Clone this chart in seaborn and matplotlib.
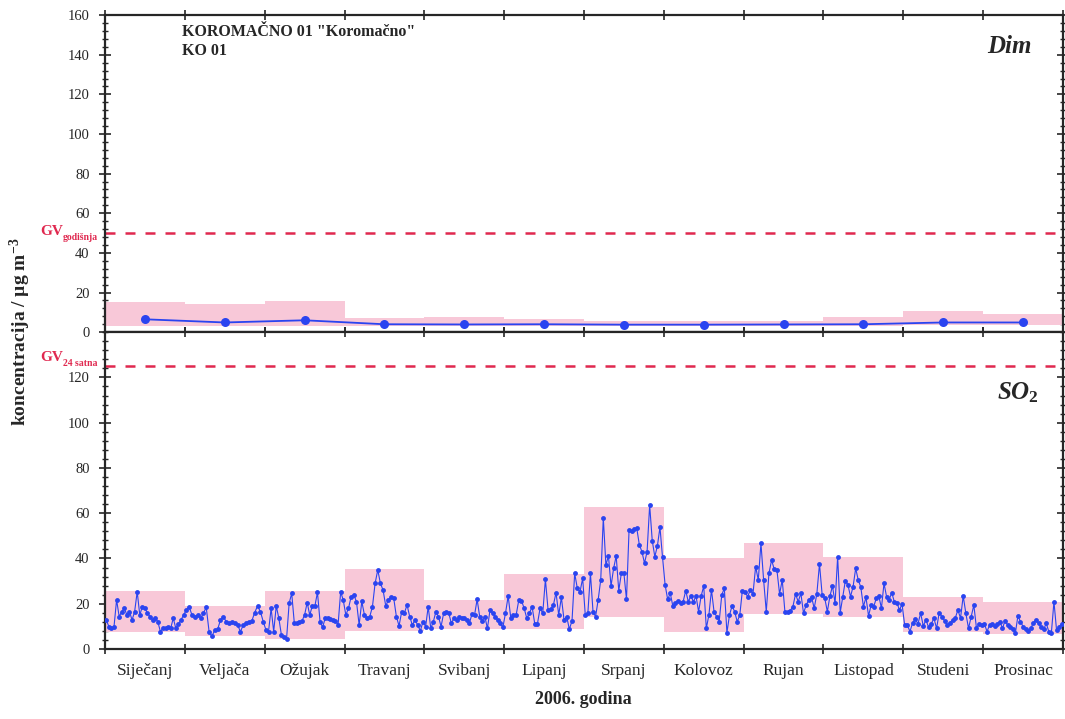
import numpy as np
import pandas as pd
import seaborn as sns
import matplotlib.pyplot as plt
from matplotlib.ticker import MultipleLocator, FixedLocator
from matplotlib.transforms import blended_transform_factory

# mjeseci
mjeseci = ["Siječanj", "Veljača", "Ožujak", "Travanj", "Svibanj", "Lipanj",
           "Srpanj", "Kolovoz", "Rujan", "Listopad", "Studeni", "Prosinac"]

# Dim - mjesečni srednjaci i raspon (min - max)
dim_sred = [6.5, 4.9, 6.0, 4.0, 3.9, 4.0, 3.8, 3.8, 3.9, 4.0, 4.9, 4.9]
dim_min = [3.2, 3.0, 3.2, 3.0, 3.0, 3.0, 3.0, 3.0, 3.0, 3.2, 3.5, 3.5]
dim_max = [15.0, 14.3, 15.5, 7.0, 7.5, 6.5, 5.8, 5.6, 5.8, 7.8, 10.8, 9.2]

# SO2 - dnevne vrijednosti po mjesecima
so2_sij = [12.8, 9.9, 9.1, 9.9, 21.7, 14.3, 16.5, 18.0, 15.0, 16.5, 12.8, 16.5, 25.3, 15.0, 18.7, 18.0,
           15.8, 14.3, 12.8, 13.6, 12.1, 7.7, 9.1, 9.1, 9.6, 9.1, 13.6, 9.1, 11.1, 12.8, 15.0]
so2_velj = [17.2, 18.7, 15.0, 14.3, 15.0, 13.6, 15.8, 18.4, 7.7, 5.6, 8.4, 8.7, 12.8, 14.3, 12.1, 11.4,
            12.1, 11.6, 10.6, 7.7, 10.6, 11.6, 12.1, 12.4, 16.1, 19.0, 16.5, 12.1]
so2_ozu = [8.4, 7.7, 18.0, 7.7, 19.0, 13.6, 6.2, 5.2, 4.5, 20.2, 24.6, 11.6, 11.6, 12.1, 12.4, 15.0,
           20.5, 15.0, 19.0, 19.0, 25.0, 12.1, 9.6, 13.6, 13.6, 13.3, 12.8, 12.5, 10.6, 25.2, 21.7]
so2_tra = [15.0, 18.0, 23.1, 23.9, 20.9, 10.6, 21.0, 15.0, 13.6, 14.3, 18.7, 29.0, 34.9, 29.0, 26.0,
           19.0, 21.7, 23.1, 22.4, 14.3, 10.2, 16.5, 15.8, 19.5, 14.3, 10.6, 12.8, 10.6, 8.0, 12.1]
so2_svi = [9.9, 18.7, 9.1, 12.1, 16.5, 14.3, 9.9, 15.8, 16.5, 15.8, 11.3, 13.6, 12.8, 14.3, 13.6, 13.9,
           12.8, 11.3, 15.5, 15.0, 21.9, 14.3, 12.5, 14.3, 9.1, 17.2, 15.8, 14.3, 12.8, 11.3, 9.6]
so2_lip = [15.8, 23.4, 13.6, 15.0, 15.0, 21.6, 21.4, 18.0, 13.6, 15.8, 18.7, 11.1, 11.1, 18.0, 15.8,
           30.8, 17.2, 17.5, 19.4, 24.9, 15.0, 22.8, 12.8, 14.3, 8.7, 12.5, 33.4, 26.8, 25.3, 31.2]
so2_srp = [15.0, 15.8, 33.4, 16.5, 14.3, 21.7, 30.5, 58.0, 37.1, 41.1, 27.8, 35.6, 41.1, 25.8, 33.4, 33.4,
           21.9, 52.6, 52.3, 52.9, 53.3, 46.0, 43.0, 37.9, 43.0, 63.6, 47.9, 40.8, 45.5, 53.8, 40.5]
so2_kol = [28.3, 21.9, 24.6, 19.0, 20.2, 21.4, 20.5, 20.9, 25.8, 20.9, 23.4, 20.9, 23.4, 16.5, 23.4, 27.8,
           9.1, 15.0, 26.1, 16.5, 14.3, 12.1, 23.9, 26.8, 7.2, 15.0, 19.0, 16.5, 12.1, 15.0, 25.8]
so2_ruj = [25.3, 23.1, 26.1, 24.3, 36.4, 30.5, 46.7, 30.5, 16.5, 33.4, 39.3, 35.2, 34.9, 24.3, 30.5,
           16.5, 16.5, 16.9, 18.7, 24.3, 20.9, 24.6, 15.8, 19.4, 21.7, 23.1, 18.0, 24.3, 37.6, 23.9]
so2_lis = [22.4, 16.5, 23.4, 27.8, 20.2, 40.8, 16.1, 23.1, 30.2, 28.3, 23.1, 27.6, 35.6, 30.5, 27.3, 18.7,
           22.8, 14.6, 19.4, 18.7, 22.4, 23.4, 18.0, 29.0, 23.1, 21.7, 24.9, 20.9, 20.5, 17.2, 19.9]
so2_stu = [10.6, 10.6, 7.7, 11.6, 13.1, 11.1, 15.8, 10.2, 12.8, 9.6, 11.1, 13.6, 9.1, 16.1, 14.3,
           12.5, 10.6, 11.6, 12.8, 13.6, 17.2, 13.6, 23.4, 15.8, 9.1, 14.3, 19.4, 9.1, 11.1, 10.6]
so2_pro = [11.1, 7.7, 10.6, 11.1, 10.2, 11.1, 12.1, 9.1, 12.5, 10.6, 9.9, 8.7, 6.9, 14.6, 12.1, 9.9,
           8.7, 8.1, 9.1, 11.6, 12.8, 11.3, 9.6, 8.7, 11.3, 7.7, 7.2, 20.9, 8.4, 9.9, 11.1]

# SO2 - mjesečni raspon (pravokutnici)
so2_min = [7.6, 5.9, 4.4, 8.1, 8.8, 8.8, 14.3, 7.4, 15.5, 14.3, 7.6, 6.6]
so2_max = [25.4, 19.1, 25.4, 35.2, 21.8, 33.2, 62.9, 40.4, 46.7, 40.5, 23.1, 20.6]

gv_dim = 50
gv_so2 = 125

so2_mjeseci = [so2_sij, so2_velj, so2_ozu, so2_tra, so2_svi, so2_lip,
               so2_srp, so2_kol, so2_ruj, so2_lis, so2_stu, so2_pro]

# dnevni podaci -> polozaj unutar mjeseca
redovi = []
for m, vals in enumerate(so2_mjeseci):
    n = len(vals)
    for d, v in enumerate(vals):
        redovi.append({"x": m + (d + 0.5) / n, "so2": v})
df_so2 = pd.DataFrame(redovi)
df_dim = pd.DataFrame({"x": np.arange(12) + 0.5, "dim": dim_sred})

sns.set_style("ticks")
plt.rcParams["font.family"] = ["Liberation Serif", "DejaVu Serif"]
plt.rcParams["mathtext.fontset"] = "custom"
plt.rcParams["mathtext.rm"] = "Liberation Serif:bold"
plt.rcParams["mathtext.bf"] = "Liberation Serif:bold"
plt.rcParams["mathtext.it"] = "Liberation Serif:bold:italic"

ROZA = "#f8c8d8"
PLAVA = "#2a44f0"
CRVENA = "#e0284f"

fig = plt.figure(figsize=(10.65, 7.19), dpi=100)
ax1 = fig.add_axes([0.0986, 0.538, 0.8995, 0.441])
ax2 = fig.add_axes([0.0986, 0.0974, 0.8995, 0.4406])

# gornji panel - Dim
ax1.bar(np.arange(12), np.array(dim_max) - np.array(dim_min), bottom=dim_min,
        width=1.0, align="edge", color=ROZA, linewidth=0, zorder=1)
ax1.axhline(gv_dim, color=CRVENA, lw=1.8, ls=(0, (4, 4)), zorder=2)
sns.lineplot(data=df_dim, x="x", y="dim", ax=ax1, color=PLAVA, lw=1.3,
             marker="o", markersize=6.5, markeredgewidth=0, zorder=3)

# donji panel - SO2
ax2.bar(np.arange(12), np.array(so2_max) - np.array(so2_min), bottom=so2_min,
        width=1.0, align="edge", color=ROZA, linewidth=0, zorder=1)
ax2.axhline(gv_so2, color=CRVENA, lw=1.8, ls=(0, (4, 4)), zorder=2)
sns.lineplot(data=df_so2, x="x", y="so2", ax=ax2, color=PLAVA, lw=0.8, sort=False,
             marker="o", markersize=3.5, markeredgewidth=0, zorder=3)

for ax in (ax1, ax2):
    ax.set_xlim(0, 12)
    ax.xaxis.set_major_locator(FixedLocator(range(13)))
    ax.xaxis.set_minor_locator(FixedLocator(np.arange(12) + 0.5))
    ax.set_xticklabels([])
    ax.tick_params(axis="x", which="major", direction="inout", length=7, width=1.2,
                   top=True, bottom=True)
    ax.tick_params(axis="x", which="minor", length=0)
    ax.yaxis.set_minor_locator(MultipleLocator(4))
    ax.tick_params(axis="y", which="major", direction="inout", length=8, width=1.2,
                   left=True, right=True, labelsize=10.5, pad=7)
    ax.tick_params(axis="y", which="minor", direction="inout", length=4, width=1,
                   left=True, right=True)
    for s in ax.spines.values():
        s.set_linewidth(1.6)
        s.set_visible(True)
    ax.set_xlabel("")
    ax.set_ylabel("")

ax1.set_ylim(0, 160)
ax1.set_yticks(range(0, 161, 20))
ax2.set_ylim(0, 140)
ax2.set_yticks(range(0, 121, 20))
ax2.set_xticklabels(mjeseci, minor=True, fontsize=12.5)
ax2.tick_params(axis="x", which="minor", pad=10)

# GV oznake
for ax, gv, sub, dy in ((ax1, gv_dim, "godišnja", 2), (ax2, gv_so2, "24 satna", 9)):
    tr = blended_transform_factory(ax.transAxes, ax.transData)
    ax.annotate("GV", xy=(0, gv), xycoords=tr, xytext=(-65, dy), textcoords="offset pixels",
                ha="left", va="center", color=CRVENA, fontsize=11, fontweight="bold",
                annotation_clip=False)
    ax.annotate(sub, xy=(0, gv), xycoords=tr, xytext=(-42, dy - 6), textcoords="offset pixels",
                ha="left", va="center", color=CRVENA, fontsize=7, fontweight="bold",
                annotation_clip=False)

ax1.text(0.08, 0.972, 'KOROMAČNO 01 "Koromačno"\nKO 01', transform=ax1.transAxes,
         ha="left", va="top", fontsize=11.5, fontweight="bold", linespacing=1.25)
ax1.text(0.967, 0.90, "Dim", transform=ax1.transAxes, ha="right", va="center",
         fontsize=18, fontweight="bold", fontstyle="italic")
ax2.text(0.975, 0.81, r"$SO_{\mathit{2}}$", transform=ax2.transAxes, ha="right", va="center",
         fontsize=18)

fig.text(0.019, 0.538, r"koncentracija / µg m$^{-3}$", rotation=90, ha="center", va="center",
         fontsize=14, fontweight="bold")
fig.text(0.548, 0.027, "2006. godina", ha="center", va="center", fontsize=13, fontweight="bold")

fig.savefig("out.png", dpi=100)
